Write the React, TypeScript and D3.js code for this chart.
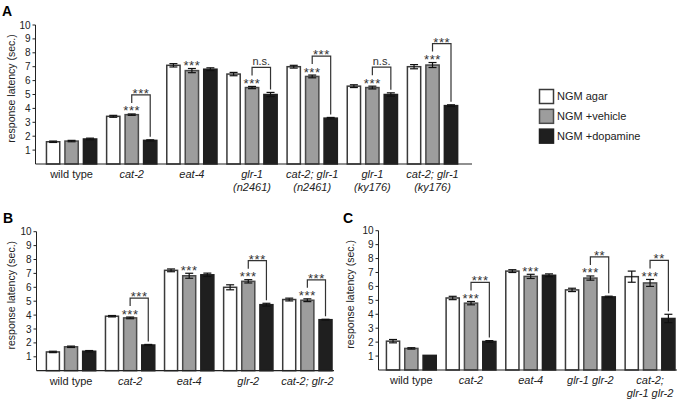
import React from "react";
import * as d3 from "d3";

const seriesNames = ["NGM agar", "NGM +vehicle", "NGM +dopamine"];
const yTicks = [1, 2, 3, 4, 5, 6, 7, 8, 9, 10];

// Panel A
const groupsA = ["wild type", "cat-2", "eat-4", "glr-1|(n2461)", "cat-2; glr-1|(n2461)", "glr-1|(ky176)", "cat-2; glr-1|(ky176)"];
const agarA = [1.6, 3.43, 7.1, 6.47, 7.0, 5.6, 7.0];
const agarErrA = [0.05, 0.07, 0.12, 0.12, 0.1, 0.1, 0.15];
const vehicleA = [1.65, 3.55, 6.72, 5.5, 6.3, 5.5, 7.12];
const vehicleErrA = [0.05, 0.05, 0.15, 0.08, 0.1, 0.1, 0.18];
const dopamineA = [1.8, 1.7, 6.82, 5.0, 3.3, 5.0, 4.2];
const dopamineErrA = [0.06, 0.04, 0.1, 0.15, 0.05, 0.12, 0.06];
const starsA = ["", "***", "***", "***", "***", "***", "***"];
const bracketA = ["", "***", "", "n.s.", "***", "n.s.", "***"];

// Panel B
const groupsB = ["wild type", "cat-2", "eat-4", "glr-2", "cat-2; glr-2"];
const agarB = [1.35, 3.92, 7.22, 6.0, 5.12];
const agarErrB = [0.05, 0.05, 0.1, 0.18, 0.1];
const vehicleB = [1.72, 3.8, 6.83, 6.43, 5.07];
const vehicleErrB = [0.05, 0.06, 0.18, 0.12, 0.1];
const dopamineB = [1.4, 1.85, 6.9, 4.75, 3.67];
const dopamineErrB = [0.05, 0.04, 0.12, 0.1, 0.03];
const starsB = ["", "***", "***", "***", "***"];
const bracketB = ["", "***", "", "***", "***"];

// Panel C
const groupsC = ["wild type", "cat-2", "eat-4", "glr-1 glr-2", "cat-2;|glr-1 glr-2"];
const agarC = [2.07, 5.17, 7.1, 5.75, 6.7];
const agarErrC = [0.12, 0.12, 0.1, 0.12, 0.4];
const vehicleC = [1.55, 4.8, 6.72, 6.6, 6.25];
const vehicleErrC = [0.05, 0.12, 0.15, 0.15, 0.25];
const dopamineC = [1.05, 2.05, 6.8, 5.25, 3.7];
const dopamineErrC = [0, 0.06, 0.1, 0.05, 0.3];
const starsC = ["", "***", "***", "***", "***"];
const bracketC = ["", "***", "", "**", "**"];

const font = "'Liberation Sans', Arial, Helvetica, sans-serif";
const fills = ["#ffffff", "#9d9d9d", "#1f1f1f"];
const strokes = ["#3a3a3a", "#4a4a4a", "#1f1f1f"];

type PanelCfg = {
  letter: string;
  letterX: number;
  letterY: number;
  groups: string[];
  values: number[][];
  errs: number[][];
  stars: string[];
  brackets: string[];
  axisX: number;
  axisEnd: number;
  y0: number;
  yTop: number;
  band: [number, number];
  titleX: number;
};

const panels: PanelCfg[] = [
  {
    letter: "A", letterX: 2, letterY: 16,
    groups: groupsA,
    values: [agarA, vehicleA, dopamineA],
    errs: [agarErrA, vehicleErrA, dopamineErrA],
    stars: starsA, brackets: bracketA,
    axisX: 35.5, axisEnd: 472, y0: 164, yTop: 25, band: [41.5, 462.6], titleX: 11,
  },
  {
    letter: "B", letterX: 3, letterY: 223,
    groups: groupsB,
    values: [agarB, vehicleB, dopamineB],
    errs: [agarErrB, vehicleErrB, dopamineErrB],
    stars: starsB, brackets: bracketB,
    axisX: 36.5, axisEnd: 334, y0: 370.7, yTop: 231.7, band: [41.5, 336.9], titleX: 11,
  },
  {
    letter: "C", letterX: 343, letterY: 223,
    groups: groupsC,
    values: [agarC, vehicleC, dopamineC],
    errs: [agarErrC, vehicleErrC, dopamineErrC],
    stars: starsC, brackets: bracketC,
    axisX: 378.5, axisEnd: 677, y0: 370, yTop: 230.7, band: [381.5, 679.9], titleX: 350,
  },
];

function Stars({ x, y, label }: { x: number; y: number; label: string }) {
  return (
    <text x={x} y={y} textAnchor="middle" fontSize={13} letterSpacing={0.6} fontFamily={font} fill="#333">{label}</text>
  );
}

function Panel({ cfg }: { cfg: PanelCfg }) {
  const y = d3.scaleLinear().domain([0, 10]).range([cfg.y0, cfg.yTop]);
  const x0 = d3.scaleBand<string>().domain(cfg.groups).range(cfg.band).paddingInner(0.14).paddingOuter(0.07);
  const x1 = d3.scaleBand<number>().domain([0, 1, 2]).range([0, x0.bandwidth()]).paddingInner(0.2);
  const bw = x1.bandwidth();
  const midY = (cfg.y0 + cfg.yTop) / 2 - 6;

  return (
    <g>
      <text x={cfg.letterX} y={cfg.letterY} fontSize={14} fontWeight="bold" fontFamily={font}>{cfg.letter}</text>
      {/* y axis */}
      <line x1={cfg.axisX} x2={cfg.axisX} y1={cfg.y0} y2={cfg.yTop} stroke="#222" strokeWidth={1} />
      {yTicks.map((t) => (
        <g key={t}>
          <line x1={cfg.axisX - 3} x2={cfg.axisX} y1={y(t)} y2={y(t)} stroke="#222" strokeWidth={1} />
          <text x={cfg.axisX - 5} y={y(t)} dy="0.35em" textAnchor="end" fontSize={10} fontFamily={font} fill="#222">{t}</text>
        </g>
      ))}
      <text transform={`translate(${cfg.titleX},${midY}) rotate(-90)`} textAnchor="middle" dy="0.35em" fontSize={10.5} fontFamily={font} fill="#222">response latency (sec.)</text>
      {/* bars */}
      {cfg.groups.map((g, gi) => {
        const gx = x0(g)!;
        return (
          <g key={g}>
            {cfg.values.map((vals, si) => {
              const v = vals[gi];
              const e = cfg.errs[si][gi];
              const bx = gx + x1(si)!;
              const cx = bx + bw / 2;
              return (
                <g key={si}>
                  <rect x={bx + 0.75} y={y(v)} width={bw - 1.5} height={cfg.y0 - y(v)} fill={fills[si]} stroke={strokes[si]} strokeWidth={1.5} />
                  {e > 0 && (
                    <g stroke="#111" strokeWidth={1.2}>
                      <line x1={cx} x2={cx} y1={y(v - e)} y2={y(v + e)} />
                      <line x1={cx - 4} x2={cx + 4} y1={y(v + e)} y2={y(v + e)} />
                      <line x1={cx - 4} x2={cx + 4} y1={y(v - e)} y2={y(v - e)} />
                    </g>
                  )}
                </g>
              );
            })}
            {/* stars above vehicle bar */}
            {cfg.stars[gi] && (() => {
              const cx = gx + x1(1)! + bw / 2;
              const top = y(cfg.values[1][gi] + cfg.errs[1][gi]);
              return <Stars x={cx} y={top + 1.5} label={cfg.stars[gi]} />;
            })()}
            {cfg.brackets[gi] && (() => {
              const lx = gx + x1(1)! + bw / 2;
              const rx = gx + x1(2)! + bw / 2;
              const topG = y(cfg.values[1][gi] + cfg.errs[1][gi]);
              const topB = y(cfg.values[2][gi] + cfg.errs[2][gi]);
              const by = topG - 19;
              const label = cfg.brackets[gi];
              const isNs = label === "n.s.";
              return (
                <g>
                  <path d={`M${lx},${topG - 11}V${by}H${rx}V${topB - 3}`} fill="none" stroke="#333" strokeWidth={1.2} />
                  {isNs ? (
                    <text x={(lx + rx) / 2} y={by - 2.5} textAnchor="middle" fontSize={11} fontFamily={font} fill="#333">{label}</text>
                  ) : (
                    <Stars x={(lx + rx) / 2} y={by + 3} label={label} />
                  )}
                </g>
              );
            })()}
            {/* category label */}
            {g.split("|").map((line, li) => (
              <text key={li} x={gx + x0.bandwidth() / 2} y={cfg.y0 + 14 + li * 12.5} textAnchor="middle" fontSize={11} fontFamily={font} fontStyle={g === "wild type" ? "normal" : "italic"} fill="#222">{line}</text>
            ))}
          </g>
        );
      })}
      {/* x axis */}
      <line x1={cfg.axisX} x2={cfg.axisEnd} y1={cfg.y0} y2={cfg.y0} stroke="#222" strokeWidth={1.2} />
    </g>
  );
}

export default function App() {
  const legendY = d3.scaleBand<number>().domain([0, 1, 2]).range([89.5, 145]).paddingInner(0.2);
  return (
    <svg width={682} height={402} style={{ position: "absolute", left: 0, top: 0, background: "#fff" }}>
      {panels.map((p) => <Panel key={p.letter} cfg={p} />)}
      {seriesNames.map((s, i) => (
        <g key={s}>
          <rect x={539.5} y={legendY(i)!} width={14} height={14} fill={fills[i]} stroke={strokes[i]} strokeWidth={1.5} />
          <text x={557} y={legendY(i)! + 7} dy="0.35em" fontSize={11} fontFamily={font} fill="#222">{s}</text>
        </g>
      ))}
    </svg>
  );
}
